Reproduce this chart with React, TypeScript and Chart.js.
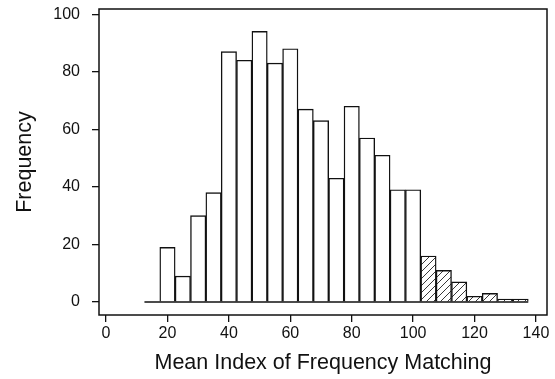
import React, { useEffect, useRef } from "react";
import { Chart, registerables } from "chart.js";

Chart.register(...registerables);

// Histogram bins (centres, width 5) and counts
const plainBins = [15, 20, 25, 30, 35, 40, 45, 50, 55, 60, 65, 70, 75, 80, 85, 90, 95, 100];
const plainCounts = [0, 19, 9, 30, 38, 87, 84, 94, 83, 88, 67, 63, 43, 68, 57, 51, 39, 39];
const hatchedBins = [105, 110, 115, 120, 125, 130, 135];
const hatchedCounts = [16, 11, 7, 2, 3, 1, 1];
const baselineX = [12.5, 137.5];
const xTickValues = [0, 20, 40, 60, 80, 100, 120, 140];
const yTickValues = [0, 20, 40, 60, 80, 100];
const xTitle = "Mean Index of Frequency Matching";
const yTitle = "Frequency";

const FONT = "'Liberation Sans', Arial, Helvetica, sans-serif";

function makeHatch(ctx: CanvasRenderingContext2D): CanvasPattern | string {
  const s = 7;
  const c = document.createElement("canvas");
  c.width = s;
  c.height = s;
  const g = c.getContext("2d");
  if (!g) return "#fff";
  g.fillStyle = "#fff";
  g.fillRect(0, 0, s, s);
  g.strokeStyle = "#222";
  g.lineWidth = 0.9;
  g.beginPath();
  g.moveTo(0, s);
  g.lineTo(s, 0);
  g.moveTo(-2, 2);
  g.lineTo(2, -2);
  g.moveTo(s - 2, s + 2);
  g.lineTo(s + 2, s - 2);
  g.stroke();
  return ctx.createPattern(c, "repeat") || "#fff";
}

const framePlugin = {
  id: "frame",
  afterDraw(chart: any) {
    const { ctx, chartArea } = chart;
    ctx.save();
    ctx.strokeStyle = "#111";
    ctx.lineWidth = 1.5;
    ctx.strokeRect(chartArea.left, chartArea.top, chartArea.right - chartArea.left, chartArea.bottom - chartArea.top);
    ctx.restore();
  },
};

export default function App() {
  const ref = useRef<HTMLCanvasElement | null>(null);

  useEffect(() => {
    const canvas = ref.current;
    if (!canvas) return;
    const ctx = canvas.getContext("2d");
    if (!ctx) return;
    const hatch = makeHatch(ctx);

    const tickFont = { family: FONT, size: 16 };
    const titleFont = { family: FONT, size: 21.5 };

    const chart = new Chart(ctx, {
      type: "bar",
      data: {
        datasets: [
          {
            type: "bar",
            data: plainBins.map((x, i) => ({ x, y: plainCounts[i] })),
            backgroundColor: "#ffffff",
            borderColor: "#111",
            borderWidth: 1.4,
            barPercentage: 1,
            categoryPercentage: 1,
            grouped: false,
            order: 2,
          } as any,
          {
            type: "bar",
            data: hatchedBins.map((x, i) => ({ x, y: hatchedCounts[i] })),
            backgroundColor: hatch as any,
            borderColor: "#111",
            borderWidth: 1.4,
            barPercentage: 1,
            categoryPercentage: 1,
            grouped: false,
            order: 2,
          } as any,
          {
            type: "line",
            data: baselineX.map((x) => ({ x, y: 0 })),
            borderColor: "#111",
            borderWidth: 1.5,
            pointRadius: 0,
            fill: false,
            order: 1,
          } as any,
        ],
      },
      options: {
        animation: false,
        responsive: false,
        maintainAspectRatio: false,
        layout: { padding: { top: 9, right: 8, left: 0, bottom: 0 } },
        plugins: { legend: { display: false }, tooltip: { enabled: false } },
        scales: {
          x: {
            type: "linear",
            offset: false,
            min: -2.3,
            max: 143.6,
            afterBuildTicks: (s: any) => {
              s.ticks = xTickValues.map((v) => ({ value: v }));
            },
            afterFit: (s: any) => {
              s.height = 64;
              s.paddingLeft = 0;
              s.paddingRight = 0;
            },
            grid: { display: true, offset: false, drawOnChartArea: false, drawTicks: true, tickLength: 7, color: "#111", lineWidth: 1.3 },
            border: { display: false },
            ticks: { font: tickFont, color: "#111", padding: 2, maxRotation: 0, autoSkip: false },
            title: { display: true, text: xTitle, font: titleFont, color: "#111", padding: { top: 0, bottom: 3 } },
          },
          y: {
            type: "linear",
            min: -4.5,
            max: 101.8,
            afterBuildTicks: (s: any) => {
              s.ticks = yTickValues.map((v) => ({ value: v }));
            },
            afterFit: (s: any) => {
              s.width = 99;
              s.paddingTop = 0;
              s.paddingBottom = 0;
            },
            grid: { display: true, drawOnChartArea: false, drawTicks: true, tickLength: 7, color: "#111", lineWidth: 1.3 },
            border: { display: false },
            ticks: { font: tickFont, color: "#111", padding: 12, autoSkip: false },
            title: { display: true, text: yTitle, font: titleFont, color: "#111", padding: { top: 12, bottom: 0 } },
          },
        },
      },
      plugins: [framePlugin],
    } as any);

    return () => chart.destroy();
  }, []);

  return (
    <div style={{ position: "fixed", left: 0, top: 0, width: 555, height: 379, background: "#fff" }}>
      <canvas ref={ref} width={555} height={379} style={{ display: "block" }} />
    </div>
  );
}
